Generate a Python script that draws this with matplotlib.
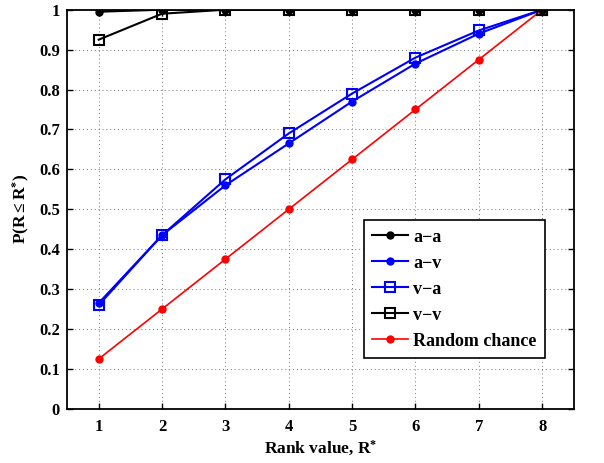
import matplotlib
matplotlib.use('Agg')
from matplotlib import pyplot as plt

plt.rcParams['font.family'] = ['Liberation Serif', 'DejaVu Serif']
plt.rcParams['font.weight'] = 'bold'
plt.rcParams['mathtext.fontset'] = 'custom'
plt.rcParams['mathtext.rm'] = 'Liberation Serif:bold'
plt.rcParams['mathtext.bf'] = 'Liberation Serif:bold'
plt.rcParams['mathtext.it'] = 'Liberation Serif:bold'

ranks = [1, 2, 3, 4, 5, 6, 7, 8]
aa = [0.995, 1.0, 1.0, 1.0, 1.0, 1.0, 1.0, 1.0]
av = [0.265, 0.435, 0.56, 0.665, 0.77, 0.865, 0.94, 1.0]
va = [0.26, 0.435, 0.575, 0.69, 0.79, 0.88, 0.948, 1.0]
vv = [0.925, 0.99, 1.0, 1.0, 1.0, 1.0, 1.0, 1.0]
rand_chance = [0.125, 0.25, 0.375, 0.5, 0.625, 0.75, 0.875, 1.0]

y_ticks = [0, 0.1, 0.2, 0.3, 0.4, 0.5, 0.6, 0.7, 0.8, 0.9, 1]
y_tick_labels = ['0', '0.1', '0.2', '0.3', '0.4', '0.5', '0.6', '0.7', '0.8', '0.9', '1']

fig = plt.figure(figsize=(6.04, 4.63), dpi=100)
ax = fig.add_axes([0.111, 0.117, 0.839, 0.862])

lw = 1.5
ax.plot(ranks, aa, color='black', marker='o', markersize=5, linewidth=lw, label='a\u2212a', zorder=5)
ax.plot(ranks, av, color='blue', marker='o', markersize=5, linewidth=lw, label='a\u2212v', zorder=4)
ax.plot(ranks, va, color='blue', marker='s', markersize=7, markerfacecolor='none',
        markeredgewidth=1.5, linewidth=lw, label='v\u2212a', zorder=4)
ax.plot(ranks, vv, color='black', marker='s', markersize=7, markerfacecolor='none',
        markeredgewidth=1.5, linewidth=lw, label='v\u2212v', zorder=5)
ax.plot(ranks, rand_chance, color='red', marker='o', markersize=5, linewidth=1.2,
        label='Random chance', zorder=3)

ax.set_xlim(0.5, 8.5)
ax.set_ylim(0, 1)
ax.set_xticks(ranks)
ax.set_yticks(y_ticks)
ax.set_yticklabels(y_tick_labels)
ax.tick_params(direction='in', top=True, right=True, labelsize=12, width=1, length=4)
ax.tick_params(axis='x', pad=7)
ax.tick_params(axis='y', pad=5)
for lab in ax.get_xticklabels() + ax.get_yticklabels():
    lab.set_fontweight('bold')
ax.grid(True, linestyle=(0, (1, 3)), color='#777777', linewidth=0.7)
for s in ax.spines.values():
    s.set_linewidth(1.3)

ax.set_xlabel(r'Rank value, R$^{*}$', fontsize=12.5, fontweight='bold', labelpad=3)
ax.set_ylabel(r'$\mathbf{P(R \leq R^{*})}$', fontsize=12.5, labelpad=5)

leg = ax.legend(loc='lower right', bbox_to_anchor=(0.943, 0.128), borderaxespad=0,
                fontsize=13, fancybox=False, edgecolor='black', framealpha=1,
                handlelength=2.0, handletextpad=0.3, borderpad=0.45, labelspacing=0.5)
leg.get_frame().set_linewidth(1.2)
for t in leg.get_texts():
    t.set_fontweight('bold')

fig.savefig('out.png', dpi=100)
